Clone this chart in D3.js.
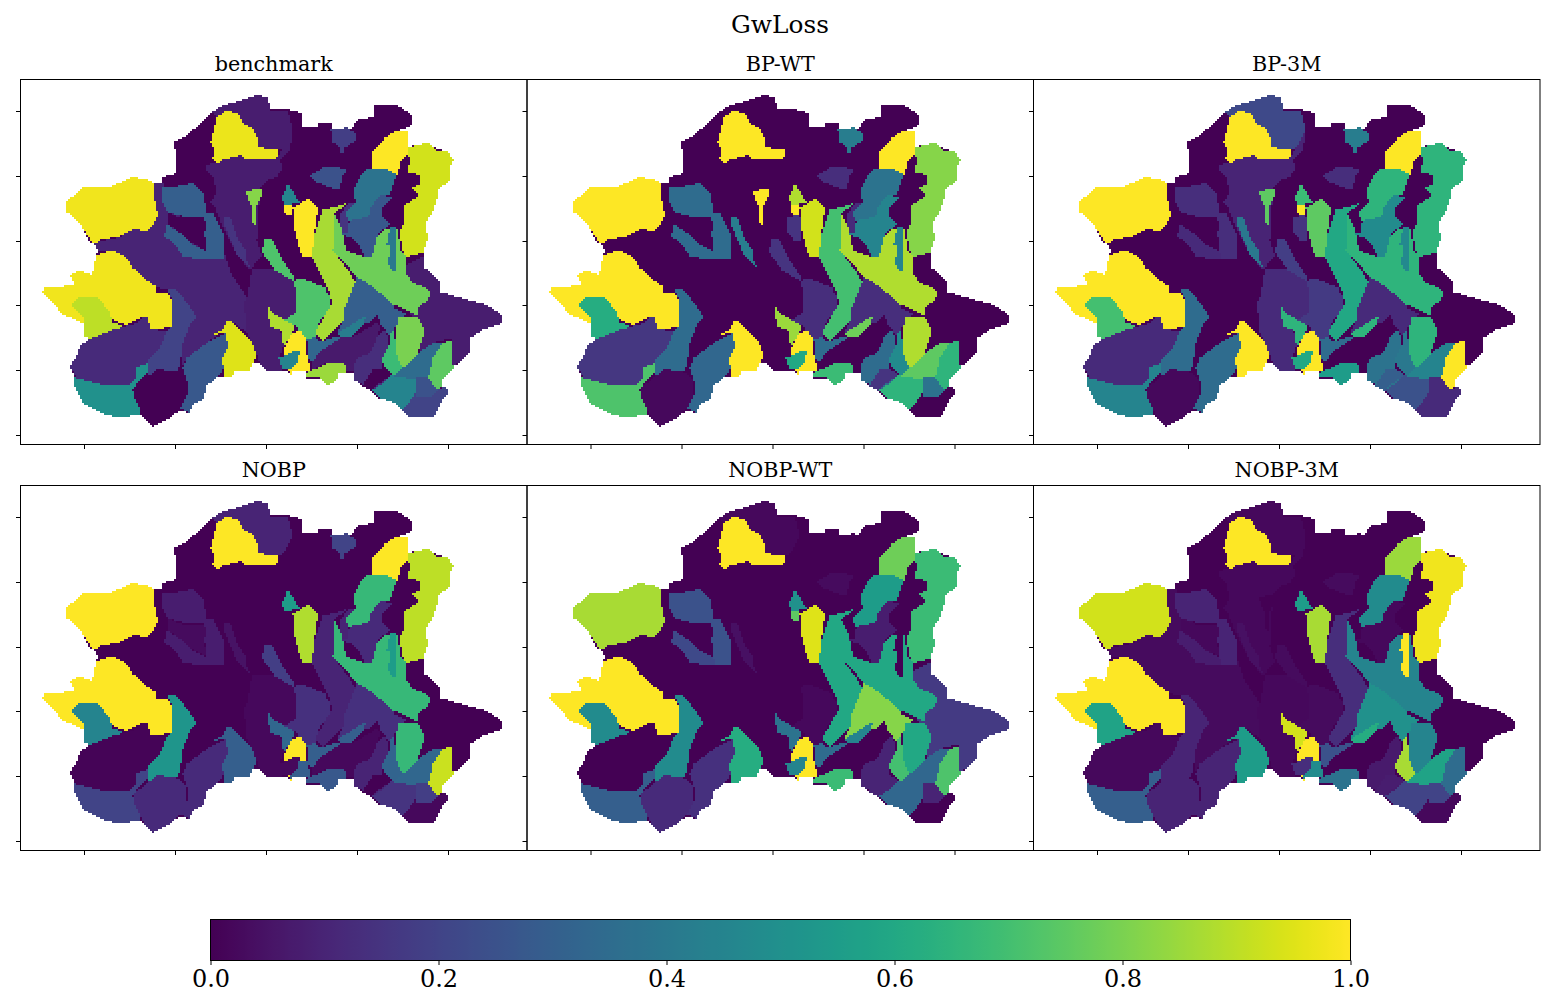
<!DOCTYPE html>
<html>
<head>
<meta charset="utf-8">
<script src="https://cdn.jsdelivr.net/npm/d3@7"></script>
<style>
  body { margin: 0; background: #fff; }
  text { font-family: "DejaVu Serif", serif; fill: #000; }
</style>
</head>
<body>
<div class="canvas"></div>
<script>
const panelNames = ["benchmark", "BP-WT", "BP-3M", "NOBP", "NOBP-WT", "NOBP-3M"];
const xTicks = [84, 175, 266, 357, 448];
const yTicks = [111, 176, 241, 305, 370, 435];
const colorTicks = [0, 0.2, 0.4, 0.6, 0.8, 1];

// sub-catchment outlines, later ones lie on top of earlier ones
const basin = [[173,143],[183,138],[203,122],[212,112],[223,105],[237,102],[258,95],[268,97],[270,110],[290,110],[302,113],[303,128],[317,127],[320,122],[332,123],[333,130],[352,128],[358,120],[373,117],[375,105],[395,104],[408,112],[413,117],[413,125],[400,130],[407,133],[407,147],[427,143],[437,148],[448,152],[454,160],[450,168],[450,180],[438,190],[437,200],[432,213],[425,223],[428,237],[423,253],[425,268],[440,282],[440,292],[458,297],[487,305],[502,315],[502,323],[483,330],[470,338],[470,352],[460,363],[453,367],[443,380],[443,387],[449,392],[443,400],[433,418],[410,418],[403,410],[393,400],[378,398],[373,392],[358,383],[353,373],[347,372],[338,373],[337,380],[327,386],[320,378],[305,380],[307,372],[293,372],[293,377],[287,370],[280,371],[267,372],[260,363],[250,363],[235,372],[232,378],[217,378],[207,385],[203,400],[192,405],[190,413],[180,410],[170,418],[153,427],[145,418],[140,413],[120,418],[107,415],[83,403],[75,387],[75,378],[70,367],[78,353],[82,345],[92,338],[85,337],[83,323],[60,313],[58,307],[43,292],[45,288],[75,285],[70,275],[80,270],[92,275],[95,262],[98,250],[93,243],[90,243],[83,228],[75,218],[67,212],[66,202],[83,188],[107,188],[133,177],[148,180],[155,184],[163,183],[163,177],[177,173],[175,148]];
const centralWest = [[93,243],[120,237],[135,228],[145,232],[155,222],[155,184],[163,183],[170,200],[207,260],[225,255],[232,275],[247,298],[243,305],[248,322],[247,333],[233,322],[228,320],[223,330],[207,343],[187,358],[182,368],[183,343],[190,325],[197,317],[187,303],[177,290],[168,290],[157,287],[147,280],[133,268],[127,258],[117,252],[108,251],[98,250]];
const northMid = [[207,165],[223,160],[242,155],[253,160],[277,158],[283,148],[293,130],[290,150],[280,160],[283,168],[277,177],[268,180],[260,187],[257,240],[262,255],[250,270],[237,255],[222,225],[215,207],[210,203],[217,193],[213,177],[207,170]];
const northTop = [[212,112],[223,105],[237,102],[258,95],[268,97],[270,110],[288,112],[293,130],[283,148],[278,150],[258,147],[257,137],[252,128],[242,123],[240,115],[227,110],[217,117]];
const eastPlain = [[407,265],[425,255],[425,268],[440,282],[440,292],[458,297],[487,305],[502,315],[502,323],[483,330],[470,338],[470,352],[460,363],[453,365],[453,340],[445,340],[433,343],[420,352],[420,340],[423,332],[418,318],[408,315],[417,308],[430,295],[427,288],[413,283],[407,275]];
const westTop = [[66,202],[83,188],[107,188],[133,177],[148,180],[155,184],[155,200],[157,210],[159,212],[155,222],[150,228],[145,232],[135,228],[120,236],[100,240],[98,243],[93,243],[83,228],[75,218],[67,212]];
const westMid = [[97,255],[108,251],[117,252],[127,258],[133,268],[147,280],[157,287],[157,293],[167,292],[172,300],[172,327],[150,330],[148,317],[143,317],[127,325],[120,323],[110,318],[100,335],[85,337],[83,323],[60,313],[58,307],[43,292],[45,288],[75,285],[70,275],[80,270],[92,275],[95,262]];
const westInner = [[72,305],[78,297],[97,297],[110,312],[112,322],[128,328],[107,333],[92,340],[85,337],[85,318]];
const swLarge = [[80,345],[92,338],[113,330],[137,323],[142,317],[148,318],[150,329],[167,331],[160,348],[150,357],[148,363],[137,367],[137,377],[130,384],[103,385],[77,378],[70,367],[78,353]];
const swBand = [[75,378],[77,378],[103,385],[130,384],[137,377],[137,367],[150,363],[148,372],[137,383],[133,390],[135,398],[142,410],[140,414],[120,418],[107,415],[83,403],[75,387]];
const southDark = [[134,388],[147,377],[158,369],[177,372],[187,380],[187,395],[180,408],[170,418],[153,427],[145,418],[141,410],[134,398]];
const westStrip = [[168,290],[177,290],[187,303],[197,317],[190,325],[183,343],[180,365],[177,372],[158,369],[147,377],[148,363],[150,357],[160,348],[167,331],[172,327],[172,300]];
const southBlue = [[183,368],[187,358],[207,343],[227,333],[228,343],[227,358],[223,370],[217,378],[207,385],[203,400],[192,405],[190,413],[180,408],[187,395],[188,383]];
const southYellow = [[211,335],[223,330],[228,320],[233,323],[252,343],[257,355],[250,370],[235,372],[232,378],[225,377],[222,358],[228,348],[226,333]];
const nwBlue = [[163,187],[173,187],[192,183],[203,193],[207,212],[213,213],[223,233],[225,260],[207,260],[205,237],[205,218],[193,218],[185,217],[168,212],[163,203]];
const nwInset = [[168,212],[177,217],[192,220],[202,218],[207,222],[204,235],[207,250],[190,242],[183,235],[167,223]];
const nwStrip = [[164,237],[167,224],[183,235],[190,243],[207,252],[208,260],[193,258],[183,257],[177,247],[167,238]];
const midStrip = [[225,217],[231,218],[237,237],[247,253],[247,260],[253,272],[237,255],[225,227]];
const northYellow = [[211,142],[217,117],[227,110],[240,115],[242,123],[252,128],[257,137],[258,147],[278,150],[277,158],[253,160],[247,160],[242,155],[223,160],[218,165],[213,158],[214,148]];
const smallGreen = [[246,192],[260,188],[263,192],[257,205],[257,225],[253,223],[252,208]];
const thinGreen = [[265,240],[272,240],[283,260],[295,278],[294,284],[275,270],[262,252]];
const midPurple = [[252,270],[275,270],[295,282],[297,300],[295,315],[285,320],[280,330],[284,345],[279,358],[283,371],[267,372],[260,363],[257,355],[252,343],[247,333],[247,322],[243,305],[247,298]];
const eastLobe = [[294,282],[300,278],[325,287],[327,293],[331,297],[331,310],[320,320],[317,332],[315,337],[307,340],[295,325],[285,320],[295,313],[297,297]];
const band = [[323,210],[348,203],[335,213],[333,250],[348,270],[357,285],[345,310],[346,317],[323,342],[315,333],[332,303],[330,293],[312,258],[309,248],[315,233]];
const bigLobe = [[334,212],[339,222],[343,233],[346,250],[353,253],[369,258],[377,237],[385,230],[398,228],[400,250],[407,257],[407,275],[413,283],[427,288],[431,294],[428,300],[418,308],[417,316],[400,307],[397,305],[385,303],[385,297],[370,285],[357,277],[345,263],[333,250]];
const core = [[357,277],[370,285],[385,297],[395,308],[408,315],[398,318],[397,325],[390,335],[387,332],[380,323],[378,313],[370,322],[360,325],[353,330],[345,333],[337,333],[344,320],[344,310],[350,295]];
const wedge = [[338,333],[367,315],[363,325],[355,333],[347,342],[342,338]];
const southStrip = [[312,362],[320,352],[340,338],[353,337],[360,333],[378,322],[380,328],[377,338],[370,353],[358,358],[353,372],[347,372],[345,365],[337,363],[327,363],[317,368],[311,371]];
const smallBlue = [[307,340],[315,337],[320,342],[335,337],[340,338],[320,352],[312,362],[308,358]];
const yellowGroup = [[284,350],[290,335],[300,330],[307,340],[307,360],[311,371],[307,372],[293,372],[293,377],[288,370],[284,355]];
const yellowInset = [[279,358],[293,352],[300,350],[299,362],[290,370],[283,370]];
const greenStrip = [[267,304],[272,313],[285,320],[295,325],[293,331],[288,340],[284,348],[281,330],[270,327]];
const southGreen = [[305,378],[308,372],[320,367],[328,363],[342,363],[347,367],[347,372],[338,373],[337,380],[328,386],[320,378]];
const lowerLobe = [[398,317],[407,317],[418,318],[425,330],[418,353],[407,365],[402,368],[397,355],[396,335]];
const lowerGreen = [[394,330],[397,355],[402,368],[395,378],[385,367],[382,360],[389,345],[390,335]];
const lowerPurple = [[353,367],[358,358],[370,353],[377,338],[385,330],[389,338],[389,345],[382,360],[382,368],[390,376],[375,392],[363,385],[355,380]];
const lowerDark = [[363,385],[373,370],[382,368],[391,375],[385,380],[377,385],[372,391],[363,387]];
const lowerTeal = [[373,390],[382,384],[390,376],[402,372],[420,374],[421,388],[407,406],[402,409],[395,403],[380,398]];
const seStrip = [[395,376],[402,368],[407,365],[418,353],[433,343],[443,343],[433,358],[430,372],[428,380],[417,380]];
const seGreen = [[435,355],[443,343],[453,340],[453,365],[455,368],[443,380],[443,385],[437,390],[428,380],[433,358]];
const sePurple = [[419,388],[433,393],[437,390],[445,387],[449,392],[443,400],[433,418],[410,418],[403,410],[407,405]];
const seUpper = [[417,378],[428,378],[438,391],[433,396],[417,397]];
const neFar = [[403,150],[417,145],[428,143],[437,150],[448,152],[454,160],[450,168],[450,180],[438,190],[437,200],[432,213],[425,223],[428,237],[423,253],[407,257],[402,250],[400,230],[405,223],[405,205],[413,200],[419,195],[413,188],[421,183],[420,175],[408,172],[410,157]];
const neTeal = [[353,193],[357,183],[360,177],[367,168],[387,169],[397,175],[394,182],[390,195],[380,195],[370,208],[370,215],[362,218],[352,220],[348,222],[346,212],[356,202]];
const neBlue = [[343,227],[352,220],[362,218],[370,215],[370,208],[380,195],[394,197],[383,207],[382,215],[390,225],[378,233],[372,257],[365,257],[358,243],[350,237],[343,235]];
const nePurple = [[340,215],[348,203],[357,202],[346,212],[348,222],[348,232],[343,233],[340,225]];
const centreBlue = [[310,175],[320,170],[325,166],[347,169],[342,177],[340,190],[332,188],[317,182]];
const northBlue = [[331,130],[338,130],[347,127],[357,135],[356,140],[345,148],[345,153],[341,153],[340,147],[333,142]];
const neYellow = [[372,152],[385,138],[397,130],[408,132],[408,155],[400,163],[398,175],[387,169],[373,170]];
const tealSmall = [[283,195],[288,183],[295,195],[300,203],[285,205],[282,200]];
const yellowSmall = [[285,206],[293,205],[293,222],[288,223],[285,213]];
const yellowBig = [[293,208],[308,199],[318,208],[315,230],[313,247],[311,257],[302,257],[298,243],[294,227]];
const smallPurple = [[281,218],[292,214],[295,225],[294,242],[288,242],[281,232]];
const seamStrip = [[390,227],[396,227],[395,245],[397,270],[392,272],[388,262],[391,245],[387,244]];
const yellowTail = [[299,356],[307,354],[311,371],[307,372],[293,372],[293,377],[290,370],[298,362]];

const outlines = [basin, centralWest, northMid, northTop, eastPlain, westTop, westMid, westInner, swLarge, swBand,
  southDark, westStrip, southBlue, southYellow, nwBlue, nwInset, nwStrip, midStrip, northYellow, smallGreen,
  thinGreen, midPurple, eastLobe, band, bigLobe, core, wedge, southStrip, smallBlue, yellowGroup,
  yellowInset, greenStrip, southGreen, lowerLobe, lowerGreen, lowerPurple, lowerDark, lowerTeal, seStrip, seGreen,
  sePurple, seUpper, neFar, neTeal, neBlue, nePurple, centreBlue, northBlue, neYellow, tealSmall,
  yellowSmall, yellowBig, smallPurple, seamStrip, yellowTail];

// GwLoss per sub-catchment, same order as outlines
const benchmark = [0,.1,.08,.08,.08,.98,.98,.9,.12,.5, 0,.2,.27,.95,.3,0,.3,.15,.97,.82, .72,.08,.72,.87,.78,.3,.42,.07,.33,1, .45,.88,.85,.8,.68,.13,0,.45,.35,.75, .2,.25,.93,.38,.27,.15,.25,.18,1,.45, 1,1,0,.4,1];
const bpWt = [0,0,0,0,0,1,1,.62,.16,.72, .02,.35,.33,1,.35,0,.35,.42,1,1, .15,0,.13,.7,.88,.13,.78,0,.35,1, .6,.85,.68,.88,.48,.35,.15,.65,.75,.65, 0,.38,.82,.38,.45,.12,.13,.42,1,.88, 1,.93,.15,.45,1];
const bp3m = [0,0,.1,.22,0,1,1,.7,.12,.45, .02,.35,.35,1,.13,0,.12,.4,1,.75, .18,.12,.17,.6,.65,.12,.65,0,.35,1, .6,.65,.55,.65,.4,.38,.3,.25,.45,1, .12,.12,.65,.65,.48,0,.13,.42,1,.68, 1,.75,.15,.47,1];
const nobp = [0,0,0,.1,0,1,1,.45,.01,.2, .12,.52,.12,.3,.08,.03,.08,.05,1,0, .18,.02,.14,.1,.67,.14,.3,.02,.3,1, .02,.33,.27,.67,.32,.1,0,.15,.33,.92, .02,.18,.9,.67,.12,.1,0,.2,1,.55, 0,.88,0,.55,.3];
const nobpWt = [0,0,0,.02,.17,.87,1,.48,0,.3, .12,.48,.14,.62,.25,0,.22,.04,1,0, 0,0,.02,.6,.6,.82,.45,0,.35,1, .45,.38,.68,.6,.7,.1,.1,.33,.33,.72, 0,.1,.68,.55,.08,0,.03,0,.78,.5, .75,.95,0,0,1];
const nobp3m = [0,.03,.02,.02,0,.93,1,.58,.02,.3, .1,.1,.1,.55,.1,.02,.08,.04,1,0, .03,.02,.03,.13,.45,.5,.62,0,.25,1, .13,.93,.38,.45,.87,.07,.08,.2,.58,.35, .02,.2,.98,.48,.02,0,.03,0,.85,.55, 0,.87,0,1,.48];
const panelValues = [benchmark, bpWt, bp3m, nobp, nobpWt, nobp3m];

const width = 1557;
const height = 1003;
const panelW = 506.5;
const panelH = 365;
const panelX = [20.5, 527, 1033.5];
const panelY = [79.5, 485.5];
const cell = 2;

const svg = d3.select(".canvas").append("svg")
  .attr("width", width)
  .attr("height", height)
  .style("display", "block");

const x = d3.scaleLinear().domain([20.5, 527]).range([0, panelW]);
const y = d3.scaleLinear().domain([79.5, 444.5]).range([0, panelH]);
const color = d3.scaleSequential(d3.interpolateViridis).domain([0, 1]);

// the model output is a raster, so each outline is burnt into a coarse grid
const rowsByRegion = outlines.map(() => []);
for (let j = d3.min(basin, d => d[1]); j < d3.max(basin, d => d[1]); j += cell) {
  let runRegion = -1;
  let runStart = 0;
  const flush = i => {
    if (runRegion >= 0) rowsByRegion[runRegion].push([runStart, i, j]);
  };
  for (let i = 40; i < 506; i += cell) {
    let region = -1;
    outlines.forEach((o, k) => {
      if (d3.polygonContains(o, [i + cell / 2, j + cell / 2])) region = k;
    });
    if (region !== runRegion) {
      flush(i);
      runRegion = region;
      runStart = i;
    }
  }
  flush(506);
}

const regionPaths = rowsByRegion.map(rows => {
  const p = d3.path();
  rows.forEach(r => p.rect(x(r[0]), y(r[2]), x(r[1]) - x(r[0]), y(r[2] + cell) - y(r[2])));
  return p.toString();
});

const panels = svg.selectAll("g.panel")
  .data(panelNames)
  .enter()
  .append("g")
  .attr("class", "panel")
  .attr("transform", (d, i) => `translate(${panelX[i % 3]}, ${panelY[Math.floor(i / 3)]})`);

panels.each(function(name, i) {
  const g = d3.select(this);
  g.selectAll("path.region")
    .data(panelValues[i])
    .enter()
    .append("path")
    .attr("class", "region")
    .attr("d", (d, k) => regionPaths[k])
    .attr("fill", d => color(d))
    .attr("shape-rendering", "crispEdges");

  g.append("rect")
    .attr("width", panelW)
    .attr("height", panelH)
    .attr("fill", "none")
    .attr("stroke", "#000")
    .attr("stroke-width", 1);

  const xAxis = g.append("g")
    .attr("transform", `translate(0, ${panelH})`)
    .call(d3.axisBottom(x).tickValues(xTicks).tickFormat("").tickSize(4.5));
  const yAxis = g.append("g")
    .call(d3.axisLeft(y).tickValues(yTicks).tickFormat("").tickSize(4.5));
  xAxis.select(".domain").remove();
  yAxis.select(".domain").remove();

  g.append("text")
    .attr("x", panelW / 2)
    .attr("y", -9)
    .attr("text-anchor", "middle")
    .style("font-size", "20.7px")
    .text(name);
});

svg.append("text")
  .attr("x", 780)
  .attr("y", 33)
  .attr("text-anchor", "middle")
  .style("font-size", "24.8px")
  .text("GwLoss");

// colorbar
const barScale = d3.scaleLinear().domain([0, 1]).range([210.5, 1350.5]);
const barY = 919.5;
const barH = 41;
const barSteps = d3.range(0, 1, 1 / 256);

const defs = svg.append("defs");
const gradient = defs.append("linearGradient").attr("id", "viridis-bar");
gradient.selectAll("stop")
  .data(barSteps)
  .enter()
  .append("stop")
  .attr("offset", d => d + 0.5 / 256)
  .attr("stop-color", d => color(d + 0.5 / 256));

svg.append("rect")
  .attr("x", barScale(0))
  .attr("y", barY)
  .attr("width", barScale(1) - barScale(0))
  .attr("height", barH)
  .attr("fill", "url(#viridis-bar)")
  .attr("stroke", "#000");

const barAxis = svg.append("g")
  .attr("transform", `translate(0, ${barY + barH})`)
  .call(d3.axisBottom(barScale).tickValues(colorTicks).tickFormat(d3.format(".1f")).tickSize(4.5).tickPadding(5));
barAxis.select(".domain").remove();
barAxis.selectAll("text").style("font-size", "24px").style("font-family", '"DejaVu Serif", serif');
</script>
</body>
</html>
